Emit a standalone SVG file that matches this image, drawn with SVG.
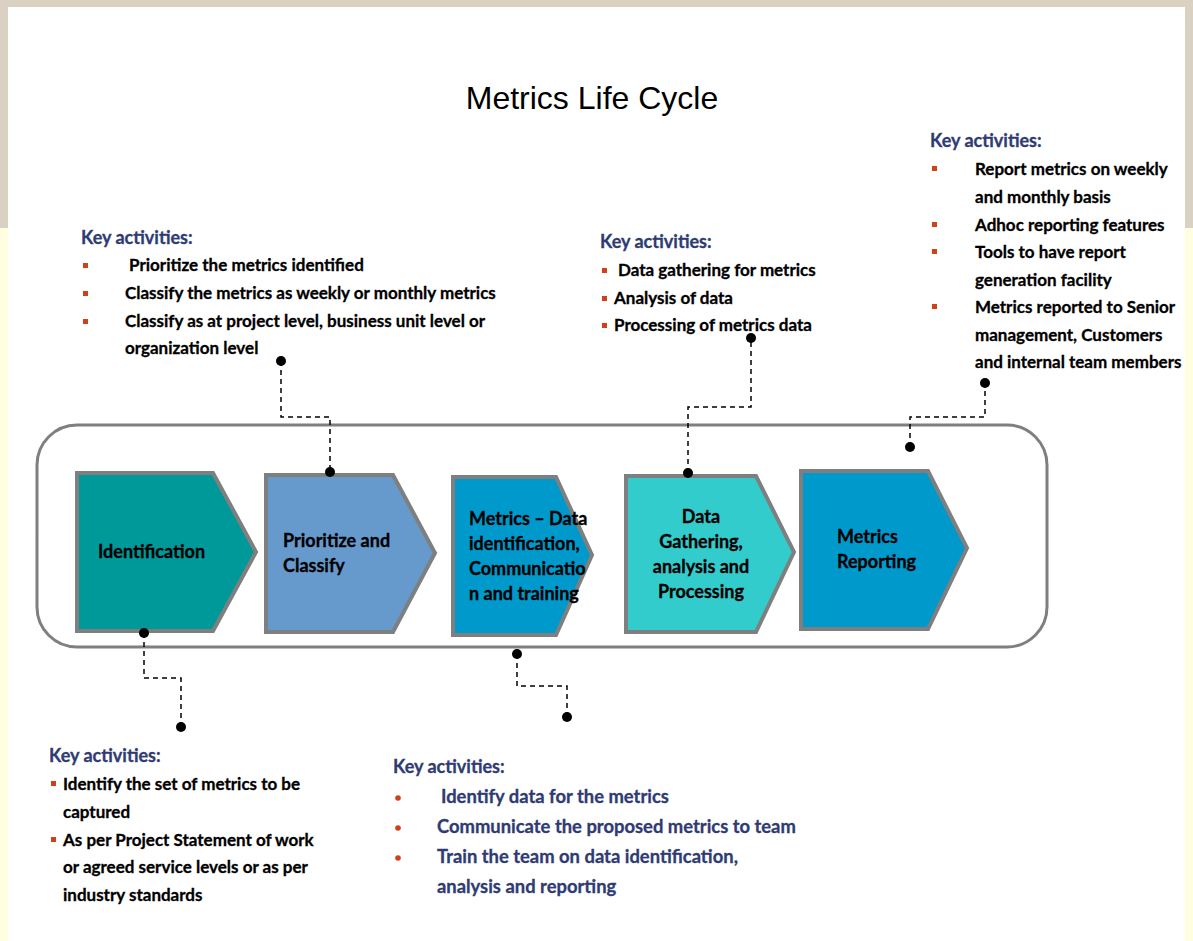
<svg xmlns="http://www.w3.org/2000/svg" width="1193" height="941" viewBox="0 0 1193 941">
  <defs>
    <style>
      .title { font-family: "Liberation Sans", Arial, sans-serif; font-size: 32px; fill: #000; }
      .head { font-family: Lato, "Liberation Sans", sans-serif; font-weight: bold; font-size: 18px; fill: #2F3B72; stroke: #2F3B72; stroke-width: 0.3; }
      .item { font-family: Lato, "Liberation Sans", sans-serif; font-weight: bold; font-size: 17px; fill: #000; stroke: #000; stroke-width: 0.3; }
      .item-navy { font-family: Lato, "Liberation Sans", sans-serif; font-weight: bold; font-size: 18.4px; fill: #2F3B72; stroke: #2F3B72; stroke-width: 0.3; }
      .label { font-family: Lato, "Liberation Sans", sans-serif; font-weight: bold; font-size: 18px; fill: #000; stroke: #000; stroke-width: 0.3; }
      .sq { fill: #D0401A; }
      .dotb { fill: #D0401A; }
      .stage { stroke: #7F7F7F; stroke-width: 4; stroke-linejoin: miter; }
      .link { fill: none; stroke: #000; stroke-width: 1.5; stroke-dasharray: 5 4; }
      .end { fill: #000; }
    </style>
  </defs>

  <!-- backdrop -->
  <rect x="0" y="0" width="1193" height="941" fill="#FFFFE0"/>
  <rect x="0" y="0" width="1193" height="228" fill="#DAD1C3"/>
  <rect x="8" y="7" width="1177" height="934" fill="#FFFFFF"/>

  <text class="title" x="592" y="109" text-anchor="middle">Metrics Life Cycle</text>

  <!-- process band -->
  <rect id="band" x="37" y="425" width="1010" height="222" rx="40" ry="40" fill="none" stroke="#7F7F7F" stroke-width="3"/>

  <g id="identification">
    <polygon class="stage" fill="#009999" points="77,473 213,473 256,552 213,631 77,631"/>
    <text class="label" x="98" y="558">Identification</text>
  </g>

  <g id="prioritize">
    <polygon class="stage" fill="#6699CC" points="266,475 393,475 435,553 393,632 266,632"/>
    <text class="label" x="283" y="547">Prioritize and</text>
    <text class="label" x="283" y="572">Classify</text>
  </g>

  <g id="data-identification">
    <polygon class="stage" fill="#0099CC" points="453,477 556,477 592,555 556,635 453,635"/>
    <text class="label" x="469" y="525">Metrics – Data</text>
    <text class="label" x="469" y="550">identification,</text>
    <text class="label" x="469" y="575">Communicatio</text>
    <text class="label" x="469" y="600">n and training</text>
  </g>

  <g id="data-gathering">
    <polygon class="stage" fill="#33CCCC" points="626,476 756,476 794,552 756,632 626,632"/>
    <text class="label" x="701" y="523" text-anchor="middle">Data</text>
    <text class="label" x="701" y="548" text-anchor="middle">Gathering,</text>
    <text class="label" x="701" y="573" text-anchor="middle">analysis and</text>
    <text class="label" x="701" y="598" text-anchor="middle">Processing</text>
  </g>

  <g id="reporting">
    <polygon class="stage" fill="#0099CC" points="801,471 928,471 967,548 928,629 801,629"/>
    <text class="label" x="837" y="543">Metrics</text>
    <text class="label" x="837" y="568">Reporting</text>
  </g>

  <!-- dashed callout leaders -->
  <g id="connectors">
    <path class="link" d="M281,361 V417 H330 V472"/>
    <circle class="end" cx="281" cy="361" r="5"/>
    <circle class="end" cx="330" cy="472" r="5"/>

    <path class="link" d="M144,633 V678 H181 V727"/>
    <circle class="end" cx="144" cy="633" r="5"/>
    <circle class="end" cx="181" cy="727" r="5"/>

    <path class="link" d="M517,654 V686 H567 V717"/>
    <circle class="end" cx="517" cy="654" r="5"/>
    <circle class="end" cx="567" cy="717" r="5"/>

    <path class="link" d="M688,473 V407 H751 V338"/>
    <circle class="end" cx="688" cy="473" r="5"/>
    <circle class="end" cx="751" cy="338" r="5"/>

    <path class="link" d="M910,447 V417 H985 V383"/>
    <circle class="end" cx="910" cy="447" r="5"/>
    <circle class="end" cx="985" cy="383" r="5"/>
  </g>

  <!-- activities: prioritize -->
  <g id="notes-prioritize">
    <text class="head" x="81" y="244">Key activities:</text>
    <rect class="sq" x="83" y="263" width="5" height="5"/>
    <rect class="sq" x="83" y="291" width="5" height="5"/>
    <rect class="sq" x="83" y="319" width="5" height="5"/>
    <text class="item" x="129" y="271">Prioritize the metrics identified</text>
    <text class="item" x="125" y="299">Classify the metrics as weekly or monthly metrics</text>
    <text class="item" x="125" y="327">Classify as at project level, business unit level or</text>
    <text class="item" x="125" y="354">organization level</text>
  </g>

  <!-- activities: data gathering -->
  <g id="notes-gathering">
    <text class="head" x="600" y="248">Key activities:</text>
    <rect class="sq" x="602" y="268" width="5" height="5"/>
    <rect class="sq" x="602" y="296" width="5" height="5"/>
    <rect class="sq" x="602" y="323" width="5" height="5"/>
    <text class="item" x="618" y="276">Data gathering for metrics</text>
    <text class="item" x="614" y="304">Analysis of data</text>
    <text class="item" x="614" y="331">Processing of metrics data</text>
  </g>

  <!-- activities: reporting -->
  <g id="notes-reporting">
    <text class="head" x="930" y="147">Key activities:</text>
    <rect class="sq" x="932" y="166" width="5" height="5"/>
    <rect class="sq" x="932" y="222" width="5" height="5"/>
    <rect class="sq" x="932" y="249" width="5" height="5"/>
    <rect class="sq" x="932" y="304" width="5" height="5"/>
    <text class="item" x="975" y="175">Report metrics on weekly</text>
    <text class="item" x="975" y="203">and monthly basis</text>
    <text class="item" x="975" y="231">Adhoc reporting features</text>
    <text class="item" x="975" y="258">Tools to have report</text>
    <text class="item" x="975" y="286">generation facility</text>
    <text class="item" x="975" y="313">Metrics reported to Senior</text>
    <text class="item" x="975" y="341">management, Customers</text>
    <text class="item" x="975" y="368">and internal team members</text>
  </g>

  <!-- activities: identification -->
  <g id="notes-identification">
    <text class="head" x="49" y="762">Key activities:</text>
    <rect class="sq" x="51" y="781" width="5" height="5"/>
    <rect class="sq" x="51" y="837" width="5" height="5"/>
    <text class="item" x="63" y="790">Identify the set of metrics to be</text>
    <text class="item" x="63" y="818">captured</text>
    <text class="item" x="63" y="846">As per Project Statement of work</text>
    <text class="item" x="63" y="873">or agreed service levels or as per</text>
    <text class="item" x="63" y="901">industry standards</text>
  </g>

  <!-- activities: data identification -->
  <g id="notes-data-identification">
    <text class="head" x="393" y="773">Key activities:</text>
    <circle class="dotb" cx="398" cy="798" r="2.8"/>
    <circle class="dotb" cx="398" cy="828" r="2.8"/>
    <circle class="dotb" cx="398" cy="858" r="2.8"/>
    <text class="item-navy" x="441" y="803">Identify data for the metrics</text>
    <text class="item-navy" x="437" y="833">Communicate the proposed metrics to team</text>
    <text class="item-navy" x="437" y="863">Train the team on data identification,</text>
    <text class="item-navy" x="437" y="893">analysis and reporting</text>
  </g>
</svg>
